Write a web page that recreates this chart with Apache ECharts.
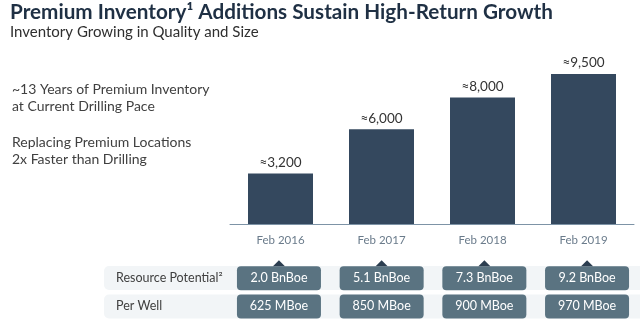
<!DOCTYPE html>
<html>
<head>
<meta charset="utf-8">
<script src="https://cdn.jsdelivr.net/npm/echarts@6/dist/echarts.min.js"></script>
<style>
  html, body { margin: 0; padding: 0; background: #ffffff; }
  #chart { width: 640px; height: 327px; }
</style>
</head>
<body>
<div id="chart"></div>
<script>
// Premium inventory (locations) by year
const categories = ['Feb 2016', 'Feb 2017', 'Feb 2018', 'Feb 2019'];
const inventory = [3200, 6000, 8000, 9500];

// Table rows under the bars
const rowNames = ['Resource Potential²', 'Per Well'];
const resourcePotential = [2.0, 5.1, 7.3, 9.2]; // BnBoe
const perWell = [625, 850, 900, 970];           // MBoe

const FONT = 'Lato, "Noto Sans", sans-serif';

const tableCells = [];
resourcePotential.forEach((v, i) => tableCells.push([i, 0, v.toFixed(1) + ' BnBoe']));
perWell.forEach((v, i) => tableCells.push([i, 1, v + ' MBoe']));

const chart = echarts.init(document.getElementById('chart'), null, { renderer: 'canvas' });

chart.setOption({
  backgroundColor: '#ffffff',
  animation: false,
  textStyle: { fontFamily: FONT },
  title: {
    text: 'Premium Inventory¹ Additions Sustain High-Return Growth',
    subtext: 'Inventory Growing in Quality and Size',
    left: 5,
    top: -4,
    itemGap: 0,
    textStyle: { fontFamily: FONT, fontSize: 20.7, fontWeight: 'bold', color: '#1f3044', lineHeight: 23 },
    subtextStyle: { fontFamily: FONT, fontSize: 15, color: '#2f2f2f', lineHeight: 16 }
  },
  graphic: [
    // row backgrounds of the table
    { type: 'rect', z: -1, shape: { x: 104, y: 266, width: 560, height: 24, r: 5 }, style: { fill: '#f2f5f7' } },
    { type: 'rect', z: -1, shape: { x: 104, y: 294.5, width: 560, height: 24, r: 5 }, style: { fill: '#f2f5f7' } },
    // side notes
    { type: 'text', left: 12, top: 81, style: { text: '~13 Years of Premium Inventory\nat Current Drilling Pace', font: '14px ' + FONT, fill: '#404040', lineHeight: 17 } },
    { type: 'text', left: 12, top: 134, style: { text: 'Replacing Premium Locations\n2x Faster than Drilling', font: '14px ' + FONT, fill: '#404040', lineHeight: 17 } }
  ],
  grid: [
    { left: 230, right: 6, top: 66, bottom: 103 },
    { left: 227.6, right: 1.6, top: 264, bottom: 6.5 }
  ],
  xAxis: [
    {
      gridIndex: 0, type: 'category', data: categories,
      axisLine: { lineStyle: { color: '#7d93a6', width: 1 } },
      axisTick: { show: false },
      axisLabel: { color: '#6a7b8b', fontSize: 11.5, margin: 10, fontFamily: FONT }
    },
    {
      gridIndex: 1, type: 'category', data: categories,
      axisLine: { show: false }, axisTick: { show: false }, axisLabel: { show: false }
    }
  ],
  yAxis: [
    { gridIndex: 0, type: 'value', min: 0, max: 10000, show: false },
    {
      gridIndex: 1, type: 'category', data: rowNames, inverse: true,
      axisLine: { show: false }, axisTick: { show: false }, splitLine: { show: false },
      axisLabel: { align: 'left', margin: 111.6, color: '#404040', fontSize: 12.5, fontFamily: FONT }
    }
  ],
  series: [
    {
      type: 'bar', xAxisIndex: 0, yAxisIndex: 0,
      data: inventory,
      barWidth: 65,
      itemStyle: { color: '#34485e' },
      label: {
        show: true, position: 'top', distance: 4,
        color: '#333333', fontSize: 13.5, fontFamily: FONT,
        formatter: p => '≈' + p.value.toLocaleString('en-US')
      }
    },
    {
      type: 'custom', xAxisIndex: 1, yAxisIndex: 1,
      data: tableCells,
      renderItem: function (params, api) {
        const c = api.coord([api.value(0), api.value(1)]);
        const w = 84, h = 24;
        const children = [
          { type: 'rect', shape: { x: c[0] - w / 2, y: c[1] - h / 2, width: w, height: h, r: 4 }, style: { fill: '#5a7381' } },
          { type: 'text', style: { text: api.value(2), x: c[0], y: c[1], align: 'center', verticalAlign: 'middle', fill: '#ffffff', font: '12.5px ' + FONT } }
        ];
        if (api.value(1) === 0) {
          children.push({ type: 'polygon', shape: { points: [[c[0] - 6, c[1] - h / 2], [c[0] + 6, c[1] - h / 2], [c[0], c[1] - h / 2 - 6]] }, style: { fill: '#2c3e50' } });
        }
        return { type: 'group', children: children };
      }
    }
  ]
});
</script>
</body>
</html>
